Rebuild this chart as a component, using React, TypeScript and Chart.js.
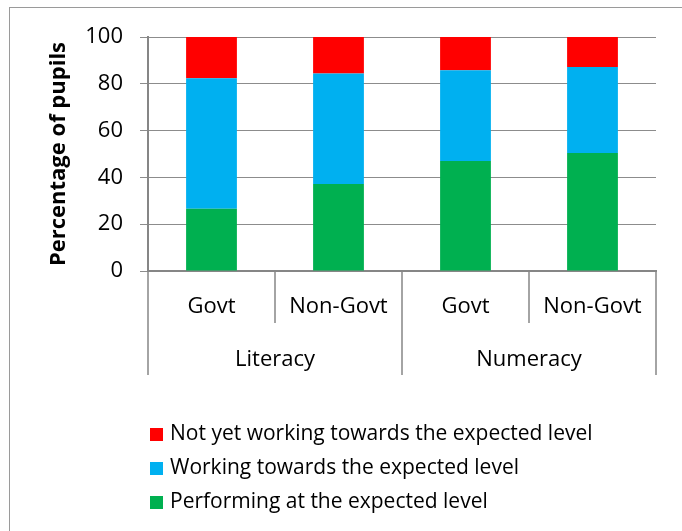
import React, { useEffect, useRef } from "react";
import { Chart, registerables } from "chart.js";

Chart.register(...registerables);

// Sub-categories along the x axis and the subject groups they belong to
const subCategories = ["Govt", "Non-Govt", "Govt", "Non-Govt"];
const groups = ["Literacy", "Numeracy"];
const groupSize = 2;

// Percentage of pupils per attainment band (stacked bottom to top)
const performing = [26.6, 37.2, 47.0, 50.4];
const workingTowards = [55.8, 47.2, 38.8, 36.8];
const notYet = [17.6, 15.6, 14.2, 12.8];

const yTicks = [0, 20, 40, 60, 80, 100];

const seriesNames = [
  "Performing at the expected level",
  "Working towards the expected level",
  "Not yet working towards the expected level",
];
const seriesColors = ["#00B050", "#00B0F0", "#FF0000"];

const FONT = "'Open Sans', 'Noto Sans', sans-serif";
const AXIS_GREY = "#868686";

// Draws the category separators and group labels under the x axis,
// plus a left-aligned legend stacked one entry per line.
const axisGroupsPlugin = {
  id: "axisGroups",
  afterDraw(chart: any) {
    const { ctx, chartArea, scales } = chart;
    const x = scales.x;
    const bottom = chartArea.bottom;
    ctx.save();
    ctx.strokeStyle = AXIS_GREY;
    ctx.lineWidth = 1.5;
    for (let i = 0; i <= subCategories.length; i++) {
      const px = Math.round(x.getPixelForValue(i - 0.5));
      const isGroupEdge = i % groupSize === 0;
      ctx.beginPath();
      ctx.moveTo(px, bottom);
      ctx.lineTo(px, bottom + (isGroupEdge ? 104 : 52));
      ctx.stroke();
    }
    ctx.fillStyle = "#000";
    ctx.font = `22px ${FONT}`;
    ctx.textAlign = "center";
    ctx.textBaseline = "alphabetic";
    groups.forEach((g, gi) => {
      const a = x.getPixelForValue(gi * groupSize - 0.5);
      const b = x.getPixelForValue((gi + 1) * groupSize - 0.5);
      ctx.fillText(g, (a + b) / 2, bottom + 95);
    });

    // legend, top entry = last dataset
    const ds = chart.data.datasets.slice().reverse();
    ctx.font = `21px ${FONT}`;
    ctx.textAlign = "left";
    const left = chartArea.left + 2;
    ds.forEach((d: any, i: number) => {
      const baseline = 439.5 + i * 34;
      ctx.fillStyle = d.backgroundColor;
      ctx.fillRect(left, baseline - 11.5, 13, 13);
      ctx.fillStyle = "#000";
      ctx.fillText(d.label, left + 20, baseline);
    });
    ctx.restore();
  },
};

export default function App() {
  const canvasRef = useRef<HTMLCanvasElement | null>(null);

  useEffect(() => {
    if (!canvasRef.current) return;
    const values = [performing, workingTowards, notYet];
    const chart = new Chart(canvasRef.current, {
      type: "bar",
      data: {
        labels: subCategories,
        datasets: values.map((v, i) => ({
          label: seriesNames[i],
          data: v,
          backgroundColor: seriesColors[i],
          borderWidth: 0,
          barPercentage: 0.4,
          categoryPercentage: 1,
        })),
      },
      options: {
        animation: false,
        responsive: false,
        layout: { padding: { top: 37, right: 26, bottom: 156, left: 0 } },
        plugins: {
          legend: { display: false },
          tooltip: { enabled: false },
        },
        scales: {
          x: {
            stacked: true,
            grid: { display: false, drawTicks: false },
            border: { display: true, color: AXIS_GREY, width: 2 },
            ticks: {
              color: "#000",
              padding: 23,
              font: { family: FONT, size: 22 },
              maxRotation: 0,
              autoSkip: false,
            },
            afterFit(scale: any) {
              scale.height = 104;
            },
          },
          y: {
            stacked: true,
            min: 0,
            max: 100,
            afterBuildTicks(scale: any) {
              scale.ticks = yTicks.map((v) => ({ value: v }));
            },
            grid: { color: "#8c8c8c", lineWidth: 1, tickLength: 8, drawTicks: true },
            border: { display: true, color: AXIS_GREY, width: 2 },
            ticks: {
              color: "#000",
              padding: 17,
              font: { family: FONT, size: 22 },
            },
            title: {
              display: true,
              text: "Percentage of pupils",
              color: "#000",
              font: { family: FONT, size: 22, weight: "bold" },
              padding: { top: 46, bottom: 0 },
            },
            afterFit(scale: any) {
              scale.width = 148;
            },
          },
        },
      },
      plugins: [axisGroupsPlugin],
    });
    return () => chart.destroy();
  }, []);

  return (
    <div
      style={{
        position: "fixed",
        left: 0,
        top: 0,
        width: 682,
        height: 531,
        overflow: "hidden",
        background: "#fff",
      }}
    >
      <div
        style={{
          position: "absolute",
          left: 9,
          top: 7,
          width: 720,
          height: 600,
          borderLeft: "1.5px solid #9a9a9a",
          borderTop: "1.5px solid #9a9a9a",
        }}
      />
      <canvas
        ref={canvasRef}
        width={682}
        height={531}
        style={{ position: "absolute", left: 0, top: 0, width: 682, height: 531 }}
      />
    </div>
  );
}
